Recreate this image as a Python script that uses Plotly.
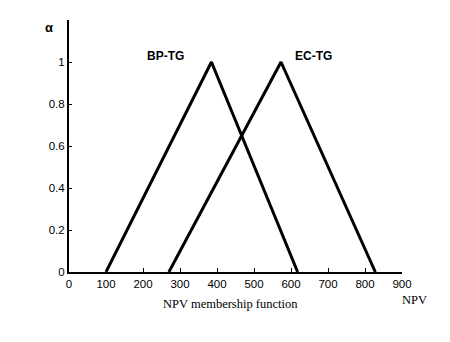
import plotly.graph_objects as go

bp_x = [100, 385, 618]
bp_y = [0, 1, 0]
ec_x = [270, 573, 828]
ec_y = [0, 1, 0]
x_ticks = [0, 100, 200, 300, 400, 500, 600, 700, 800, 900]
y_ticks = [0, 0.2, 0.4, 0.6, 0.8, 1]
y_tick_text = ["0", "0.2", "0.4", "0.6", "0.8", "1"]

fig = go.Figure()
fig.add_trace(go.Scatter(x=bp_x, y=bp_y, mode="lines",
                         line=dict(color="black", width=3), showlegend=False))
fig.add_trace(go.Scatter(x=ec_x, y=ec_y, mode="lines",
                         line=dict(color="black", width=3), showlegend=False))

fig.add_annotation(x=260, y=1.03, text="<b>BP-TG</b>", showarrow=False,
                   font=dict(family="Liberation Sans", size=12, color="black"))
fig.add_annotation(x=660, y=1.03, text="<b>EC-TG</b>", showarrow=False,
                   font=dict(family="Liberation Sans", size=12, color="black"))
fig.add_annotation(x=0, y=1.2, xref="x", yref="y", xanchor="right", xshift=-14,
                   yanchor="top", yshift=2, text="<b>α</b>", showarrow=False,
                   font=dict(family="Liberation Sans", size=13, color="black"))
fig.add_annotation(x=0.5, xref="paper", y=-0.09, yref="paper", yanchor="top",
                   xshift=-5,
                   text="NPV membership function", showarrow=False,
                   font=dict(family="Liberation Serif", size=12.5, color="black"))
fig.add_annotation(x=900, xref="x", y=-0.075, yref="paper", yanchor="top",
                   xshift=12,
                   text="NPV", showarrow=False,
                   font=dict(family="Liberation Serif", size=12.5, color="black"))

fig.update_xaxes(range=[0, 900], tickvals=x_ticks, showgrid=False, zeroline=False,
                 showline=True, linecolor="black", linewidth=2,
                 ticks="inside", ticklen=4, tickcolor="black",
                 tickfont=dict(family="Liberation Sans", size=11.5, color="black"))
fig.update_yaxes(range=[0, 1.2], tickvals=y_ticks, ticktext=y_tick_text,
                 showgrid=False, zeroline=False,
                 showline=True, linecolor="black", linewidth=2,
                 ticks="inside", ticklen=3, tickcolor="black",
                 tickfont=dict(family="Liberation Sans", size=11.5, color="black"))

fig.update_layout(width=450, height=342, plot_bgcolor="white", paper_bgcolor="white",
                  margin=dict(l=69, r=48, t=20, b=70))

fig.write_html("out.html")
